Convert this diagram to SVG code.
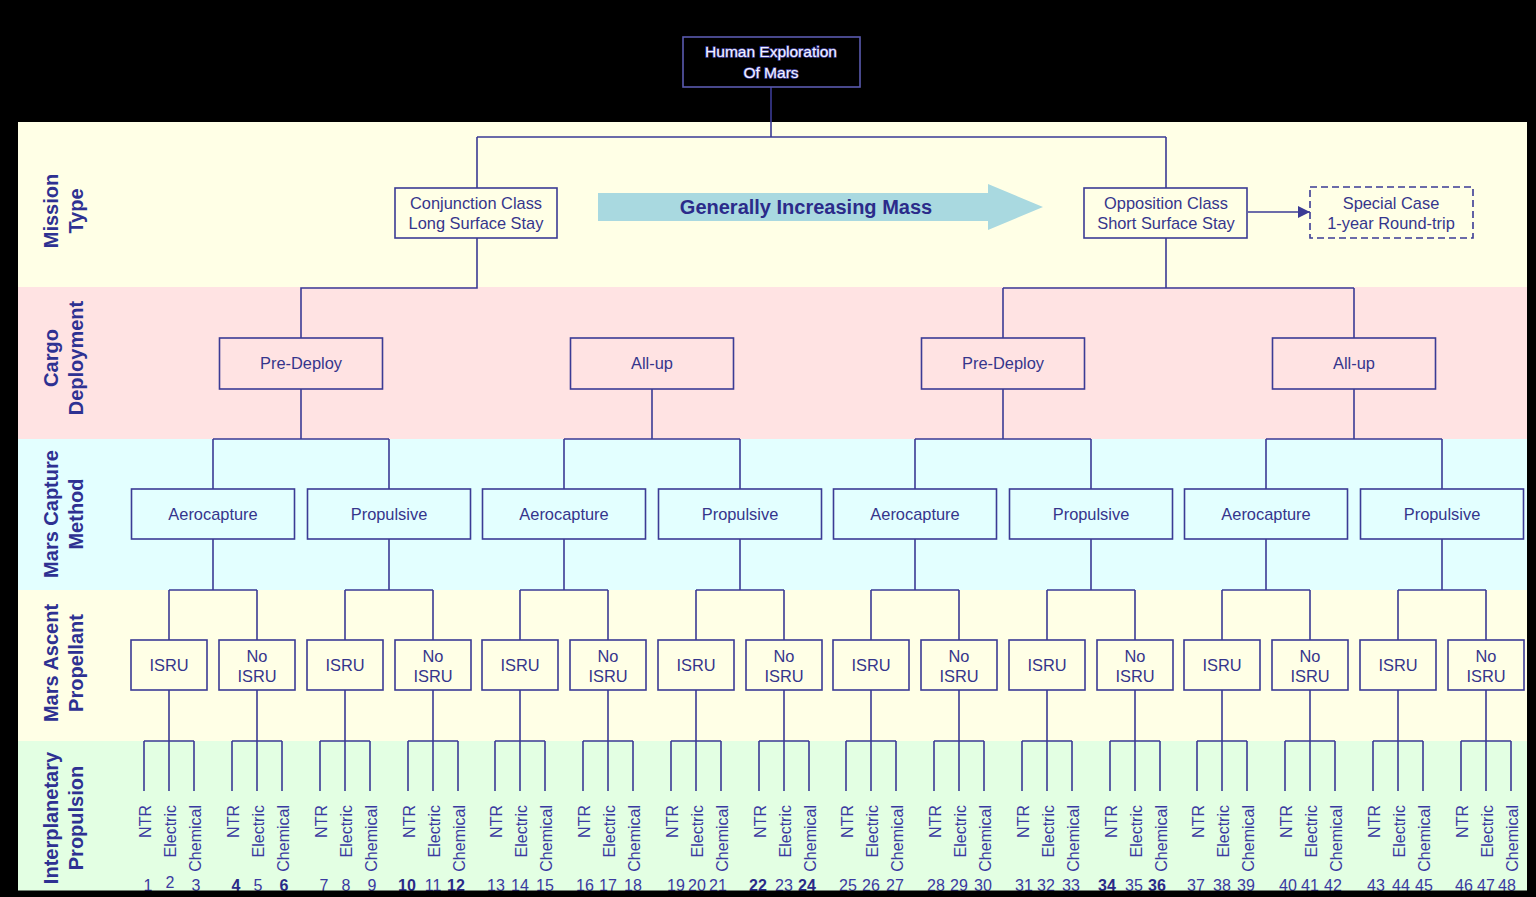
<svg xmlns="http://www.w3.org/2000/svg" width="1536" height="897" viewBox="0 0 1536 897">
<defs>
<style>
.box{fill:none;stroke:#3b3b95;stroke-width:1.6}
.dash{fill:none;stroke:#3b3b95;stroke-width:1.6;stroke-dasharray:7 4}
.ln{fill:none;stroke:#3b3b95;stroke-width:1.6}
.t{font-family:"Liberation Sans",Arial,sans-serif;font-size:16.4px;fill:#35358c;text-anchor:middle}
.top{font-family:"Liberation Sans",Arial,sans-serif;font-size:15.5px;fill:#f2f2ff;stroke:#4a4aa8;stroke-width:1.4;paint-order:stroke;text-anchor:middle}
.lbl{font-family:"Liberation Sans",Arial,sans-serif;font-size:20px;font-weight:bold;fill:#2e3192;text-anchor:middle}
.big{font-family:"Liberation Sans",Arial,sans-serif;font-size:20px;font-weight:bold;fill:#2b2b8a;text-anchor:middle}
.leaf{font-family:"Liberation Sans",Arial,sans-serif;font-size:16px;fill:#3a3aa0;text-anchor:end}
.num{font-family:"Liberation Sans",Arial,sans-serif;font-size:16px;fill:#3a3aa0;text-anchor:middle}
.b{font-weight:bold;fill:#2a2a88}
</style>
<marker id="ah" viewBox="0 0 12 12" refX="12" refY="6" markerWidth="12" markerHeight="12" markerUnits="userSpaceOnUse" orient="auto">
<path d="M0,0 L12,6 L0,12 Z" fill="#3b3b95"/>
</marker>
</defs>
<rect x="0" y="0" width="1536" height="897" fill="#000"/>
<g id="bands">
<rect x="18" y="122" width="1509" height="165" fill="#ffffe6"/>
<rect x="18" y="287" width="1509" height="152" fill="#ffe3e3"/>
<rect x="18" y="439" width="1509" height="151" fill="#e3ffff"/>
<rect x="18" y="590" width="1509" height="151" fill="#ffffe6"/>
<rect x="18" y="741" width="1509" height="150" fill="#e3ffe3"/>
</g>
<g id="row-labels">
<text class="lbl" x="58" y="211" transform="rotate(-90 58 211)">Mission</text>
<text class="lbl" x="83" y="211" transform="rotate(-90 83 211)">Type</text>
<text class="lbl" x="58" y="358" transform="rotate(-90 58 358)">Cargo</text>
<text class="lbl" x="83" y="358" transform="rotate(-90 83 358)">Deployment</text>
<text class="lbl" x="58" y="514" transform="rotate(-90 58 514)">Mars Capture</text>
<text class="lbl" x="83" y="514" transform="rotate(-90 83 514)">Method</text>
<text class="lbl" x="58" y="663" transform="rotate(-90 58 663)">Mars Ascent</text>
<text class="lbl" x="83" y="663" transform="rotate(-90 83 663)">Propellant</text>
<text class="lbl" x="58" y="818" transform="rotate(-90 58 818)">Interplanetary</text>
<text class="lbl" x="83" y="818" transform="rotate(-90 83 818)">Propulsion</text>
</g>
<g id="mass-arrow">
<polygon points="598,193 988,193 988,184 1043,207 988,230 988,221 598,221" fill="#a9d9e0"/>
<text class="big" x="806" y="214">Generally Increasing Mass</text>
</g>
<g id="connectors">
<path class="ln" d="M771,87 V137 M477,137 H1166 M477,137 V188 M1166,137 V188"/>
<path class="ln" d="M477,238 V288 H301 V338"/>
<path class="ln" d="M1166,238 V288 M1003,288 H1354 M1003,288 V338 M1354,288 V338"/>
<path class="ln" d="M1248,212 H1310" marker-end="url(#ah)"/>
<path class="ln" d="M301,389 V439 M213,439 H389 M213,439 V489 M389,439 V489"/>
<path class="ln" d="M652,389 V439 M564,439 H740 M564,439 V489 M740,439 V489"/>
<path class="ln" d="M1003,389 V439 M915,439 H1091 M915,439 V489 M1091,439 V489"/>
<path class="ln" d="M1354,389 V439 M1266,439 H1442 M1266,439 V489 M1442,439 V489"/>
<path class="ln" d="M213,539 V590 M169,590 H257 M169,590 V640 M257,590 V640"/>
<path class="ln" d="M389,539 V590 M345,590 H433 M345,590 V640 M433,590 V640"/>
<path class="ln" d="M564,539 V590 M520,590 H608 M520,590 V640 M608,590 V640"/>
<path class="ln" d="M740,539 V590 M696,590 H784 M696,590 V640 M784,590 V640"/>
<path class="ln" d="M915,539 V590 M871,590 H959 M871,590 V640 M959,590 V640"/>
<path class="ln" d="M1091,539 V590 M1047,590 H1135 M1047,590 V640 M1135,590 V640"/>
<path class="ln" d="M1266,539 V590 M1222,590 H1310 M1222,590 V640 M1310,590 V640"/>
<path class="ln" d="M1442,539 V590 M1398,590 H1486 M1398,590 V640 M1486,590 V640"/>
<path class="ln" d="M169,690 V791 M144,741 H194 M144,741 V791 M194,741 V791"/>
<path class="ln" d="M257,690 V791 M232,741 H282 M232,741 V791 M282,741 V791"/>
<path class="ln" d="M345,690 V791 M320,741 H370 M320,741 V791 M370,741 V791"/>
<path class="ln" d="M433,690 V791 M408,741 H458 M408,741 V791 M458,741 V791"/>
<path class="ln" d="M520,690 V791 M495,741 H545 M495,741 V791 M545,741 V791"/>
<path class="ln" d="M608,690 V791 M583,741 H633 M583,741 V791 M633,741 V791"/>
<path class="ln" d="M696,690 V791 M671,741 H721 M671,741 V791 M721,741 V791"/>
<path class="ln" d="M784,690 V791 M759,741 H809 M759,741 V791 M809,741 V791"/>
<path class="ln" d="M871,690 V791 M846,741 H896 M846,741 V791 M896,741 V791"/>
<path class="ln" d="M959,690 V791 M934,741 H984 M934,741 V791 M984,741 V791"/>
<path class="ln" d="M1047,690 V791 M1022,741 H1072 M1022,741 V791 M1072,741 V791"/>
<path class="ln" d="M1135,690 V791 M1110,741 H1160 M1110,741 V791 M1160,741 V791"/>
<path class="ln" d="M1222,690 V791 M1197,741 H1247 M1197,741 V791 M1247,741 V791"/>
<path class="ln" d="M1310,690 V791 M1285,741 H1335 M1285,741 V791 M1335,741 V791"/>
<path class="ln" d="M1398,690 V791 M1373,741 H1423 M1373,741 V791 M1423,741 V791"/>
<path class="ln" d="M1486,690 V791 M1461,741 H1511 M1461,741 V791 M1511,741 V791"/>
</g>
<g id="root">
<rect x="683" y="37" width="177" height="50" fill="#000" stroke="#5a5ab0" stroke-width="1.6"/>
<text class="top" x="771" y="57">Human Exploration</text>
<text class="top" x="771" y="78">Of Mars</text>
</g>
<g id="conjunction"><rect class="box" x="395" y="188" width="162" height="50"/><text class="t" x="476" y="209">Conjunction Class</text><text class="t" x="476" y="229">Long Surface Stay</text></g>
<g id="opposition"><rect class="box" x="1084" y="188" width="163" height="50"/><text class="t" x="1166" y="209">Opposition Class</text><text class="t" x="1166" y="229">Short Surface Stay</text></g>
<g id="special-case"><rect class="dash" x="1310" y="187" width="163" height="51"/><text class="t" x="1391" y="209">Special Case</text><text class="t" x="1391" y="229">1-year Round-trip</text></g>
<g id="cargo-1"><rect class="box" x="219.5" y="338" width="163" height="51"/><text class="t" x="301" y="369">Pre-Deploy</text></g>
<g id="cargo-2"><rect class="box" x="570.5" y="338" width="163" height="51"/><text class="t" x="652" y="369">All-up</text></g>
<g id="cargo-3"><rect class="box" x="921.5" y="338" width="163" height="51"/><text class="t" x="1003" y="369">Pre-Deploy</text></g>
<g id="cargo-4"><rect class="box" x="1272.5" y="338" width="163" height="51"/><text class="t" x="1354" y="369">All-up</text></g>
<g id="capture-1"><rect class="box" x="131.5" y="489" width="163" height="50"/><text class="t" x="213" y="520">Aerocapture</text></g>
<g id="capture-2"><rect class="box" x="307.5" y="489" width="163" height="50"/><text class="t" x="389" y="520">Propulsive</text></g>
<g id="capture-3"><rect class="box" x="482.5" y="489" width="163" height="50"/><text class="t" x="564" y="520">Aerocapture</text></g>
<g id="capture-4"><rect class="box" x="658.5" y="489" width="163" height="50"/><text class="t" x="740" y="520">Propulsive</text></g>
<g id="capture-5"><rect class="box" x="833.5" y="489" width="163" height="50"/><text class="t" x="915" y="520">Aerocapture</text></g>
<g id="capture-6"><rect class="box" x="1009.5" y="489" width="163" height="50"/><text class="t" x="1091" y="520">Propulsive</text></g>
<g id="capture-7"><rect class="box" x="1184.5" y="489" width="163" height="50"/><text class="t" x="1266" y="520">Aerocapture</text></g>
<g id="capture-8"><rect class="box" x="1360.5" y="489" width="163" height="50"/><text class="t" x="1442" y="520">Propulsive</text></g>
<g id="prop-1"><rect class="box" x="131" y="640" width="76" height="50"/><text class="t" x="169" y="671">ISRU</text></g>
<g id="prop-2"><rect class="box" x="219" y="640" width="76" height="50"/><text class="t" x="257" y="662">No</text><text class="t" x="257" y="682">ISRU</text></g>
<g id="prop-3"><rect class="box" x="307" y="640" width="76" height="50"/><text class="t" x="345" y="671">ISRU</text></g>
<g id="prop-4"><rect class="box" x="395" y="640" width="76" height="50"/><text class="t" x="433" y="662">No</text><text class="t" x="433" y="682">ISRU</text></g>
<g id="prop-5"><rect class="box" x="482" y="640" width="76" height="50"/><text class="t" x="520" y="671">ISRU</text></g>
<g id="prop-6"><rect class="box" x="570" y="640" width="76" height="50"/><text class="t" x="608" y="662">No</text><text class="t" x="608" y="682">ISRU</text></g>
<g id="prop-7"><rect class="box" x="658" y="640" width="76" height="50"/><text class="t" x="696" y="671">ISRU</text></g>
<g id="prop-8"><rect class="box" x="746" y="640" width="76" height="50"/><text class="t" x="784" y="662">No</text><text class="t" x="784" y="682">ISRU</text></g>
<g id="prop-9"><rect class="box" x="833" y="640" width="76" height="50"/><text class="t" x="871" y="671">ISRU</text></g>
<g id="prop-10"><rect class="box" x="921" y="640" width="76" height="50"/><text class="t" x="959" y="662">No</text><text class="t" x="959" y="682">ISRU</text></g>
<g id="prop-11"><rect class="box" x="1009" y="640" width="76" height="50"/><text class="t" x="1047" y="671">ISRU</text></g>
<g id="prop-12"><rect class="box" x="1097" y="640" width="76" height="50"/><text class="t" x="1135" y="662">No</text><text class="t" x="1135" y="682">ISRU</text></g>
<g id="prop-13"><rect class="box" x="1184" y="640" width="76" height="50"/><text class="t" x="1222" y="671">ISRU</text></g>
<g id="prop-14"><rect class="box" x="1272" y="640" width="76" height="50"/><text class="t" x="1310" y="662">No</text><text class="t" x="1310" y="682">ISRU</text></g>
<g id="prop-15"><rect class="box" x="1360" y="640" width="76" height="50"/><text class="t" x="1398" y="671">ISRU</text></g>
<g id="prop-16"><rect class="box" x="1448" y="640" width="76" height="50"/><text class="t" x="1486" y="662">No</text><text class="t" x="1486" y="682">ISRU</text></g>
<g id="propulsion-leaves">
<text class="leaf" x="151" y="805" transform="rotate(-90 151 805)">NTR</text><text class="leaf" x="176" y="805" transform="rotate(-90 176 805)">Electric</text><text class="leaf" x="201" y="805" transform="rotate(-90 201 805)">Chemical</text>
<text class="leaf" x="239" y="805" transform="rotate(-90 239 805)">NTR</text><text class="leaf" x="264" y="805" transform="rotate(-90 264 805)">Electric</text><text class="leaf" x="289" y="805" transform="rotate(-90 289 805)">Chemical</text>
<text class="leaf" x="327" y="805" transform="rotate(-90 327 805)">NTR</text><text class="leaf" x="352" y="805" transform="rotate(-90 352 805)">Electric</text><text class="leaf" x="377" y="805" transform="rotate(-90 377 805)">Chemical</text>
<text class="leaf" x="415" y="805" transform="rotate(-90 415 805)">NTR</text><text class="leaf" x="440" y="805" transform="rotate(-90 440 805)">Electric</text><text class="leaf" x="465" y="805" transform="rotate(-90 465 805)">Chemical</text>
<text class="leaf" x="502" y="805" transform="rotate(-90 502 805)">NTR</text><text class="leaf" x="527" y="805" transform="rotate(-90 527 805)">Electric</text><text class="leaf" x="552" y="805" transform="rotate(-90 552 805)">Chemical</text>
<text class="leaf" x="590" y="805" transform="rotate(-90 590 805)">NTR</text><text class="leaf" x="615" y="805" transform="rotate(-90 615 805)">Electric</text><text class="leaf" x="640" y="805" transform="rotate(-90 640 805)">Chemical</text>
<text class="leaf" x="678" y="805" transform="rotate(-90 678 805)">NTR</text><text class="leaf" x="703" y="805" transform="rotate(-90 703 805)">Electric</text><text class="leaf" x="728" y="805" transform="rotate(-90 728 805)">Chemical</text>
<text class="leaf" x="766" y="805" transform="rotate(-90 766 805)">NTR</text><text class="leaf" x="791" y="805" transform="rotate(-90 791 805)">Electric</text><text class="leaf" x="816" y="805" transform="rotate(-90 816 805)">Chemical</text>
<text class="leaf" x="853" y="805" transform="rotate(-90 853 805)">NTR</text><text class="leaf" x="878" y="805" transform="rotate(-90 878 805)">Electric</text><text class="leaf" x="903" y="805" transform="rotate(-90 903 805)">Chemical</text>
<text class="leaf" x="941" y="805" transform="rotate(-90 941 805)">NTR</text><text class="leaf" x="966" y="805" transform="rotate(-90 966 805)">Electric</text><text class="leaf" x="991" y="805" transform="rotate(-90 991 805)">Chemical</text>
<text class="leaf" x="1029" y="805" transform="rotate(-90 1029 805)">NTR</text><text class="leaf" x="1054" y="805" transform="rotate(-90 1054 805)">Electric</text><text class="leaf" x="1079" y="805" transform="rotate(-90 1079 805)">Chemical</text>
<text class="leaf" x="1117" y="805" transform="rotate(-90 1117 805)">NTR</text><text class="leaf" x="1142" y="805" transform="rotate(-90 1142 805)">Electric</text><text class="leaf" x="1167" y="805" transform="rotate(-90 1167 805)">Chemical</text>
<text class="leaf" x="1204" y="805" transform="rotate(-90 1204 805)">NTR</text><text class="leaf" x="1229" y="805" transform="rotate(-90 1229 805)">Electric</text><text class="leaf" x="1254" y="805" transform="rotate(-90 1254 805)">Chemical</text>
<text class="leaf" x="1292" y="805" transform="rotate(-90 1292 805)">NTR</text><text class="leaf" x="1317" y="805" transform="rotate(-90 1317 805)">Electric</text><text class="leaf" x="1342" y="805" transform="rotate(-90 1342 805)">Chemical</text>
<text class="leaf" x="1380" y="805" transform="rotate(-90 1380 805)">NTR</text><text class="leaf" x="1405" y="805" transform="rotate(-90 1405 805)">Electric</text><text class="leaf" x="1430" y="805" transform="rotate(-90 1430 805)">Chemical</text>
<text class="leaf" x="1468" y="805" transform="rotate(-90 1468 805)">NTR</text><text class="leaf" x="1493" y="805" transform="rotate(-90 1493 805)">Electric</text><text class="leaf" x="1518" y="805" transform="rotate(-90 1518 805)">Chemical</text>
</g>
<g id="case-numbers">
<text class="num" x="148" y="891">1</text><text class="num" x="170" y="888">2</text><text class="num" x="196" y="891">3</text>
<text class="num b" x="236" y="891">4</text><text class="num" x="258" y="891">5</text><text class="num b" x="284" y="891">6</text>
<text class="num" x="324" y="891">7</text><text class="num" x="346" y="891">8</text><text class="num" x="372" y="891">9</text>
<text class="num b" x="407" y="891">10</text><text class="num" x="433" y="891">11</text><text class="num b" x="456" y="891">12</text>
<text class="num" x="496" y="891">13</text><text class="num" x="520" y="891">14</text><text class="num" x="545" y="891">15</text>
<text class="num" x="585" y="891">16</text><text class="num" x="608" y="891">17</text><text class="num" x="633" y="891">18</text>
<text class="num" x="676" y="891">19</text><text class="num" x="697" y="891">20</text><text class="num" x="718" y="891">21</text>
<text class="num b" x="758" y="891">22</text><text class="num" x="784" y="891">23</text><text class="num b" x="807" y="891">24</text>
<text class="num" x="848" y="891">25</text><text class="num" x="871" y="891">26</text><text class="num" x="895" y="891">27</text>
<text class="num" x="936" y="891">28</text><text class="num" x="959" y="891">29</text><text class="num" x="983" y="891">30</text>
<text class="num" x="1024" y="891">31</text><text class="num" x="1046" y="891">32</text><text class="num" x="1071" y="891">33</text>
<text class="num b" x="1107" y="891">34</text><text class="num" x="1134" y="891">35</text><text class="num b" x="1157" y="891">36</text>
<text class="num" x="1196" y="891">37</text><text class="num" x="1222" y="891">38</text><text class="num" x="1246" y="891">39</text>
<text class="num" x="1288" y="891">40</text><text class="num" x="1310" y="891">41</text><text class="num" x="1333" y="891">42</text>
<text class="num" x="1376" y="891">43</text><text class="num" x="1401" y="891">44</text><text class="num" x="1424" y="891">45</text>
<text class="num" x="1464" y="891">46</text><text class="num" x="1486" y="891">47</text><text class="num" x="1507" y="891">48</text>
</g>
<rect x="0" y="890.5" width="1536" height="7" fill="#000"/>
</svg>
